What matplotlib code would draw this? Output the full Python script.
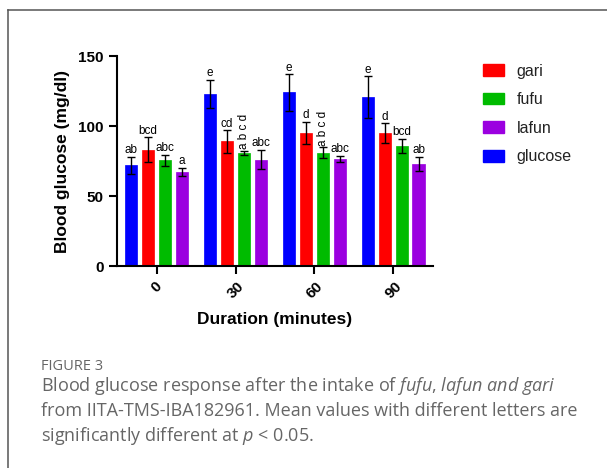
import numpy as np
import matplotlib.pyplot as plt
from matplotlib.lines import Line2D
from matplotlib.patches import Patch

# Daten
dauer = ['0', '30', '60', '90']
gruppen = ['glucose', 'gari', 'fufu', 'lafun']
farben = {'glucose': '#0000ff', 'gari': '#ff0000', 'fufu': '#00bb00', 'lafun': '#9b00e0'}

mittel_glucose = [72, 123, 124, 120.5]
mittel_gari = [83, 89, 95, 95]
mittel_fufu = [75.5, 81, 81, 86]
mittel_lafun = [67, 76, 76.5, 73]

fehler_glucose = [6, 10, 13, 15]
fehler_gari = [9, 8, 8, 7]
fehler_fufu = [4, 1.5, 4, 5]
fehler_lafun = [3, 7, 2, 5]

buchstaben_glucose = ['ab', 'e', 'e', 'e']
buchstaben_gari = ['bcd', 'cd', 'd', 'd']
buchstaben_fufu = ['abc', 'a b c d', 'a b c d', 'bcd']
buchstaben_lafun = ['a', 'abc', 'abc', 'ab']

mittel = [mittel_glucose, mittel_gari, mittel_fufu, mittel_lafun]
fehler = [fehler_glucose, fehler_gari, fehler_fufu, fehler_lafun]
buchstaben = [buchstaben_glucose, buchstaben_gari, buchstaben_fufu, buchstaben_lafun]

plt.rcParams['font.family'] = ['Liberation Sans', 'DejaVu Sans']
plt.rcParams['mathtext.fontset'] = 'custom'
plt.rcParams['mathtext.rm'] = 'Open Sans'
plt.rcParams['mathtext.it'] = 'Open Sans:italic'

fig = plt.figure(figsize=(6.07, 4.68), dpi=100)
ax = fig.add_axes([0.193, 0.4316, 0.52, 0.4487])

x = np.arange(len(dauer))
abstand = 0.215
breite = 0.16

for i, name in enumerate(gruppen):
    pos = x + (i - 1.5) * abstand
    ax.bar(pos, mittel[i], breite, color=farben[name], edgecolor=farben[name],
           linewidth=0.5, zorder=2)
    ax.errorbar(pos, mittel[i], yerr=fehler[i], fmt='none', ecolor='black',
                elinewidth=1, capsize=3, capthick=1, zorder=3)
    for p, m, f, b in zip(pos, mittel[i], fehler[i], buchstaben[i]):
        if ' ' in b:
            ax.text(p, m + f + 1, b, rotation=90, ha='center', va='bottom', fontsize=8.5)
        else:
            ax.text(p, m + f + 0.5, b, ha='center', va='bottom', fontsize=8.5)

ax.set_xlim(-0.5, 3.5)
ax.set_ylim(0, 150)
ax.set_yticks([0, 50, 100, 150])
ax.set_xticks(x)
ax.set_xticklabels(dauer, rotation=45, fontweight='bold', fontsize=11)
for t in ax.get_yticklabels():
    t.set_fontweight('bold')
    t.set_fontsize(11)
ax.spines['top'].set_visible(False)
ax.spines['right'].set_visible(False)
ax.spines['left'].set_linewidth(1.5)
ax.spines['bottom'].set_linewidth(1.5)
ax.tick_params(width=1.5, length=6)
ax.set_ylabel('Blood glucose (mg/dl)', fontweight='bold', fontsize=12.5, labelpad=6)
ax.set_xlabel('Duration (minutes)', fontweight='bold', fontsize=12.5, labelpad=8)

# Legende in anderer Reihenfolge
reihenfolge = ['gari', 'fufu', 'lafun', 'glucose']
handles = [Patch(facecolor=farben[n], edgecolor=farben[n]) for n in reihenfolge]
fig.legend(handles, reihenfolge, loc='upper left', bbox_to_anchor=(0.772, 0.895),
           frameon=False, fontsize=11.5, handlelength=1.3, handleheight=0.75,
           labelspacing=0.85, handletextpad=0.8, labelcolor='#222222')

# Rahmen der Abbildung
fig.add_artist(Line2D([8 / 607, 8 / 607], [0, 1 - 10 / 468], color='#555555', lw=1.1))
fig.add_artist(Line2D([8 / 607, 1], [1 - 10 / 468, 1 - 10 / 468], color='#555555', lw=1.1))

# Bildunterschrift
fig.text(41 / 607, 1 - 366 / 468, 'FIGURE 3', fontsize=10.5, color='#666666',
         family='Open Sans', va='center')
fig.text(41 / 607, 1 - 386 / 468,
         'Blood glucose response after the intake of '
         '$\\it{fufu}$, $\\it{lafun}$ $\\it{and}$ $\\it{gari}$',
         fontsize=13, color='#666666', family='Open Sans', va='center')
fig.text(41 / 607, 1 - 411 / 468,
         'from IITA-TMS-IBA182961. Mean values with different letters are',
         fontsize=13, color='#666666', family='Open Sans', va='center')
fig.text(41 / 607, 1 - 436 / 468,
         'significantly different at $p$ < 0.05.',
         fontsize=13, color='#666666', family='Open Sans', va='center')

plt.savefig('out.png', dpi=100)
